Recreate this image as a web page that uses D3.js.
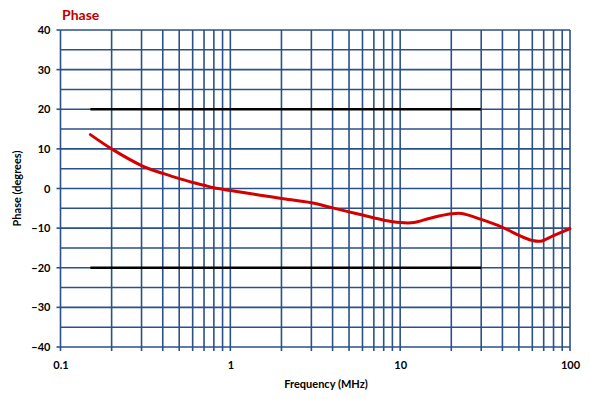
<!DOCTYPE html>
<html>
<head>
<meta charset="utf-8">
<script src="https://cdn.jsdelivr.net/npm/d3@7"></script>
<style>
  body { margin: 0; background: #fff; }
  text { font-family: Lato, "Open Sans", sans-serif; font-weight: bold; }
</style>
</head>
<body>
<div id="container"></div>
<script>
const w = 590;
const h = 399;

// phase curve (MHz, degrees)
const freq = [0.15, 0.2, 0.3, 0.4, 0.5, 0.6, 0.7, 0.8, 1, 1.5, 2, 3, 4, 5, 6, 8, 10, 12, 15, 20, 23, 30, 40, 50, 60, 67, 80, 100];
const phase = [13.6, 10.0, 5.8, 3.8, 2.5, 1.5, 0.8, 0.2, -0.5, -1.7, -2.5, -3.6, -4.9, -5.9, -6.7, -8.0, -8.6, -8.6, -7.5, -6.4, -6.3, -7.8, -9.8, -11.8, -13.1, -13.3, -11.9, -10.1];

// limit lines
const limitLevels = [20, -20];
const limitRange = [0.15, 30];

const xTicks = [0.1, 1, 10, 100];
const yTicks = [-40, -30, -20, -10, 0, 10, 20, 30, 40];

const gridColor = '#2a5189';

const svg = d3.select('#container')
  .append('svg')
  .attr('width', w)
  .attr('height', h);

const x = d3.scaleLog().domain([0.1, 100]).range([60.5, 570]);
const y = d3.scaleLinear().domain([-40, 40]).range([347, 30]);

// minor grid values
const xGrid = [];
[0.1, 1, 10].forEach(dec => {
  for (let i = 1; i <= 9; i++) xGrid.push(+(dec * i).toPrecision(3));
});
xGrid.push(100);
const yGrid = d3.range(-40, 41, 5);

const grid = svg.append('g');
grid.selectAll('.hg')
  .data(yGrid)
  .enter()
  .append('line')
  .attr('x1', x(0.1))
  .attr('x2', x(100))
  .attr('y1', d => y(d))
  .attr('y2', d => y(d))
  .attr('stroke', gridColor)
  .attr('stroke-width', 1.6);

grid.selectAll('.vg')
  .data(xGrid)
  .enter()
  .append('line')
  .attr('x1', d => x(d))
  .attr('x2', d => x(d))
  .attr('y1', y(40))
  .attr('y2', y(-40) + 4)
  .attr('stroke', gridColor)
  .attr('stroke-width', 1.6);

// y ticks
grid.selectAll('.yt')
  .data(yTicks)
  .enter()
  .append('line')
  .attr('x1', x(0.1) - 4)
  .attr('x2', x(0.1))
  .attr('y1', d => y(d))
  .attr('y2', d => y(d))
  .attr('stroke', gridColor)
  .attr('stroke-width', 1.6);

// axes labels
const xAxis = d3.axisBottom(x)
  .tickValues(xTicks)
  .tickFormat(d => d)
  .tickSize(0)
  .tickPadding(14);

svg.append('g')
  .attr('transform', `translate(0,${y(-40)})`)
  .call(xAxis)
  .call(g => g.select('.domain').remove())
  .selectAll('text')
  .attr('font-size', 11)
  .attr('font-family', 'Lato, sans-serif')
  .attr('fill', '#000');

const yAxis = d3.axisLeft(y)
  .tickValues(yTicks)
  .tickSize(0)
  .tickPadding(10);

svg.append('g')
  .attr('transform', `translate(${x(0.1)},0)`)
  .call(yAxis)
  .call(g => g.select('.domain').remove())
  .selectAll('text')
  .attr('font-size', 11)
  .attr('font-family', 'Lato, sans-serif')
  .attr('fill', '#000');

// limit lines
svg.selectAll('.limit')
  .data(limitLevels)
  .enter()
  .append('line')
  .attr('x1', x(limitRange[0]))
  .attr('x2', x(limitRange[1]))
  .attr('y1', d => y(d))
  .attr('y2', d => y(d))
  .attr('stroke', '#000')
  .attr('stroke-width', 2.5);

// phase curve
const line = d3.line()
  .x(d => x(d[0]))
  .y(d => y(d[1]))
  .curve(d3.curveCatmullRom.alpha(0.5));

svg.append('path')
  .datum(freq.map((f, i) => [f, phase[i]]))
  .attr('d', line)
  .attr('fill', 'none')
  .attr('stroke', '#d40000')
  .attr('stroke-width', 3)
  .attr('stroke-linecap', 'round');

// titles
svg.append('text')
  .attr('x', 62)
  .attr('y', 20)
  .attr('fill', '#c00000')
  .attr('font-size', 14)
  .text('Phase');

svg.append('text')
  .attr('x', 326)
  .attr('y', 388)
  .attr('text-anchor', 'middle')
  .attr('font-size', 11)
  .text('Frequency (MHz)');

svg.append('text')
  .attr('transform', `translate(21,${y(0)}) rotate(-90)`)
  .attr('text-anchor', 'middle')
  .attr('font-size', 11)
  .text('Phase (degrees)');
</script>
</body>
</html>
